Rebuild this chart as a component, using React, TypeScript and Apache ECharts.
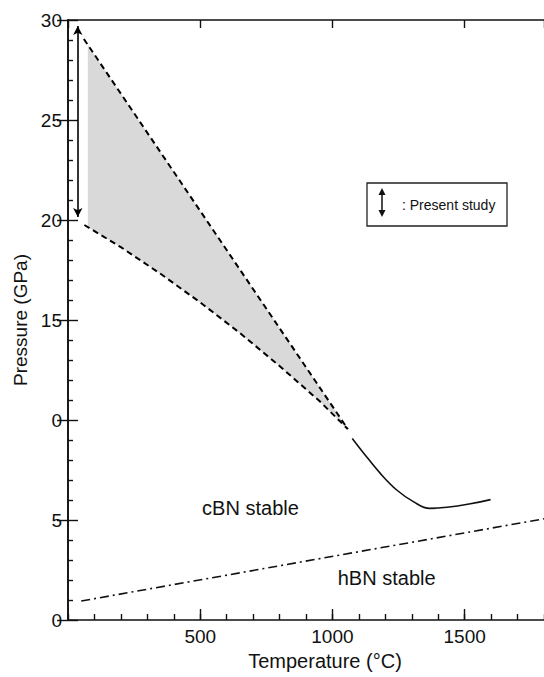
import React, { useEffect, useLayoutEffect, useRef } from "react";
import * as echarts from "echarts";

// Axis tick labels as printed (the "10" label reads "0" in the scan)
const yTickLabels = ["0", "5", "0", "15", "20", "25", "30"];

// Boundary lines, [temperature °C, pressure GPa]
const upperDash: number[][] = [
  [60, 29.05],
  [1058, 9.55],
];
const lowerDash: number[][] = [
  [62, 19.75],
  [200, 18.64],
  [350, 17.31],
  [500, 15.88],
  [650, 14.35],
  [800, 12.7],
  [950, 10.96],
  [1058, 9.55],
];
const shadeUpper: number[][] = [
  [75, 28.75],
  [1058, 9.55],
];
const shadeLower: number[][] = [
  [75, 19.65],
  [200, 18.64],
  [350, 17.31],
  [500, 15.88],
  [650, 14.35],
  [800, 12.7],
  [950, 10.96],
  [1058, 9.55],
];
const solidCurve: number[][] = [
  [1075, 9.08],
  [1119, 8.33],
  [1181, 7.33],
  [1243, 6.5],
  [1306, 5.92],
  [1368, 5.58],
  [1598, 6.02],
];
const hbnCbnLine: number[][] = [
  [50, 0.95],
  [1800, 5.06],
];
const presentStudyT = 37;
const presentStudyP = [20.15, 29.7];
const regionLabels = [
  { name: "cBN stable", value: [690, 5.6] },
  { name: "hBN stable", value: [1205, 2.1] },
];

const FONT = "'Liberation Sans', Arial, Helvetica, sans-serif";
const INK = "#111";

export default function App() {
  const ref = useRef<HTMLDivElement>(null);
  useLayoutEffect(() => {
    document.body.style.margin = "0";
    document.body.style.padding = "0";
  }, []);
  useEffect(() => {
    if (!ref.current) return;
    document.body.style.margin = "0";
    const chart = echarts.init(ref.current, null, { renderer: "svg" });
    const axisLineStyle = { color: "#111", width: 1.6 };
    const tickStyle = { color: "#111", width: 1.4 };
    chart.setOption({
      animation: false,
      backgroundColor: "#fff",
      tooltip: { show: false },
      grid: { left: 68, right: -5, top: 20, bottom: 57, containLabel: false },
      xAxis: [
        {
          type: "value",
          position: "bottom",
          min: 0,
          max: 1800,
          interval: 100,
          axisLine: { show: true, lineStyle: axisLineStyle },
          axisTick: { show: true, inside: true, length: 6, lineStyle: tickStyle },
          axisLabel: { show: false },
          splitLine: { show: false },
        },
        {
          type: "value",
          position: "bottom",
          min: 0,
          max: 1800,
          interval: 500,
          axisLine: { show: false },
          axisTick: { show: true, inside: true, length: 11, lineStyle: tickStyle },
          axisLabel: {
            show: true,
            showMinLabel: false,
            showMaxLabel: false,
            fontSize: 19,
            margin: 7,
            color: INK,
            fontFamily: FONT,
            formatter: (v: number) => String(v),
          },
          splitLine: { show: false },
          name: "Temperature (°C)",
          nameLocation: "middle",
          nameGap: 31,
          nameTextStyle: {
            fontSize: 20,
            color: INK,
            fontFamily: FONT,
            padding: [0, 0, 0, 38],
          },
        },
        {
          type: "value",
          position: "top",
          min: 0,
          max: 1800,
          interval: 500,
          axisLine: { show: true, lineStyle: axisLineStyle },
          axisTick: { show: true, inside: true, length: 8, lineStyle: tickStyle },
          axisLabel: { show: false },
          splitLine: { show: false },
        },
      ],
      yAxis: [
        {
          type: "value",
          position: "left",
          min: 0,
          max: 30,
          interval: 5,
          axisLine: { show: true, lineStyle: axisLineStyle },
          axisTick: { show: true, inside: true, length: 10, lineStyle: tickStyle },
          minorTick: { show: true, splitNumber: 5, length: 5, lineStyle: tickStyle },
          axisLabel: {
            show: true,
            fontSize: 19,
            margin: 6,
            color: INK,
            fontFamily: FONT,
            formatter: (v: number) => yTickLabels[Math.round(v / 5)] ?? "",
          },
          splitLine: { show: false },
          minorSplitLine: { show: false },
          name: "Pressure (GPa)",
          nameLocation: "middle",
          nameGap: 34,
          nameRotate: 90,
          nameTextStyle: { fontSize: 19, color: INK, fontFamily: FONT },
        },
        {
          type: "value",
          position: "right",
          min: 0,
          max: 30,
          interval: 5,
          axisLine: { show: true, lineStyle: axisLineStyle },
          axisTick: { show: true, inside: true, length: 11, lineStyle: tickStyle },
          axisLabel: { show: false },
          splitLine: { show: false },
        },
      ],
      series: [
        {
          type: "custom",
          xAxisIndex: 0,
          yAxisIndex: 0,
          z: 1,
          silent: true,
          data: [[0, 0]],
          renderItem: (_params: any, api: any) => {
            const pts = [...shadeUpper, ...shadeLower.slice().reverse()].map((p) =>
              api.coord(p)
            );
            return {
              type: "polygon",
              shape: { points: pts },
              style: { fill: "#d9d9d9" },
            };
          },
        },
        {
          type: "line",
          xAxisIndex: 0,
          yAxisIndex: 0,
          data: upperDash,
          showSymbol: false,
          silent: true,
          z: 3,
          lineStyle: { color: "#000", width: 2, type: [6, 4] },
        },
        {
          type: "line",
          xAxisIndex: 0,
          yAxisIndex: 0,
          data: lowerDash,
          showSymbol: false,
          silent: true,
          z: 3,
          lineStyle: { color: "#000", width: 2, type: [6, 4] },
        },
        {
          type: "line",
          xAxisIndex: 0,
          yAxisIndex: 0,
          data: solidCurve,
          showSymbol: false,
          smooth: 0.4,
          silent: true,
          z: 3,
          lineStyle: { color: "#111", width: 1.6, type: "solid" },
        },
        {
          type: "line",
          xAxisIndex: 0,
          yAxisIndex: 0,
          data: hbnCbnLine,
          showSymbol: false,
          silent: true,
          z: 3,
          lineStyle: { color: "#111", width: 1.6, type: [9, 4, 2, 4] },
        },
        {
          type: "line",
          xAxisIndex: 0,
          yAxisIndex: 0,
          data: [],
          silent: true,
          markLine: {
            silent: true,
            symbol: ["arrow", "arrow"],
            symbolSize: [7, 9],
            label: { show: false },
            lineStyle: { color: "#000", width: 1.6, type: "solid" },
            data: [
              [
                { coord: [presentStudyT, presentStudyP[0]] },
                { coord: [presentStudyT, presentStudyP[1]] },
              ],
            ],
          },
        },
        {
          type: "scatter",
          xAxisIndex: 0,
          yAxisIndex: 0,
          symbolSize: 0,
          silent: true,
          itemStyle: { opacity: 1 },
          data: regionLabels,
          label: {
            show: true,
            position: "inside",
            formatter: "{b}",
            fontSize: 20,
            color: INK,
            opacity: 1,
            fontFamily: FONT,
          },
        },
      ],
      graphic: [
        {
          type: "rect",
          shape: { x: 367, y: 183, width: 140, height: 43 },
          style: { fill: "#fff", stroke: "#222", lineWidth: 1.3 },
          z: 10,
        },
        {
          type: "line",
          shape: { x1: 382, y1: 192, x2: 382, y2: 213 },
          style: { stroke: "#111", lineWidth: 1.5 },
          z: 11,
        },
        {
          type: "polygon",
          shape: { points: [[382, 188], [378.5, 195], [385.5, 195]] },
          style: { fill: "#111" },
          z: 11,
        },
        {
          type: "polygon",
          shape: { points: [[382, 217], [378.5, 210], [385.5, 210]] },
          style: { fill: "#111" },
          z: 11,
        },
        {
          type: "text",
          x: 402,
          y: 205,
          style: {
            text: ": Present study",
            fontSize: 14,
            fill: INK,
            fontFamily: FONT,
            verticalAlign: "middle",
          },
          z: 11,
        },
      ],
    });
    return () => chart.dispose();
  }, []);
  return (
    <div
      ref={ref}
      style={{
        position: "absolute",
        left: 0,
        top: 0,
        width: 544,
        height: 677,
        margin: 0,
        background: "#fff",
      }}
    />
  );
}
